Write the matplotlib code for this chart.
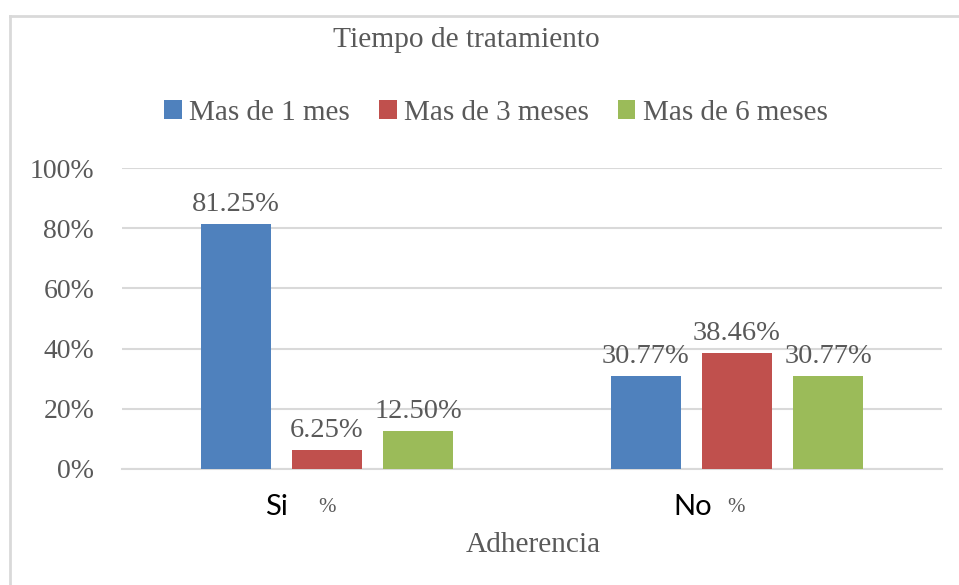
import matplotlib
matplotlib.use("Agg")
import matplotlib.pyplot as plt
import matplotlib.transforms as mtransforms
from matplotlib.patches import Patch
from matplotlib.lines import Line2D
import numpy as np

categories = ["Si", "No"]
series_names = ["Mas de 1 mes", "Mas de 3 meses", "Mas de 6 meses"]
values = [
    [81.25, 30.77],
    [6.25, 38.46],
    [12.50, 30.77],
]
colors = ["#4F81BD", "#C0504D", "#9BBB59"]
ytick_labels = ["0%", "20%", "40%", "60%", "80%", "100%"]
title = "Tiempo de tratamiento"
xlabel = "Adherencia"

W, H = 959, 585
fig = plt.figure(figsize=(W / 100, H / 100), dpi=100)
serif = "Liberation Serif"
gray = "#595959"
grid_c = "#D9D9D9"

ax = fig.add_axes([122 / W, (H - 469) / H, (942 - 122) / W, (469 - 168) / H])
x = np.arange(len(categories))
bw = 0.173
step = 0.222
for i, (name, vals, c) in enumerate(zip(series_names, values, colors)):
    pos = x + (i - 1) * step
    ax.bar(pos, [v / 100 for v in vals], width=bw, color=c, label=name, zorder=3)
    for p, v in zip(pos, vals):
        ax.annotate(f"{v:.2f}%", (p, v / 100), xytext=(0, 5), textcoords="offset points",
                    ha="center", va="bottom", fontsize=20.5, family=serif, color=gray, zorder=4)

ax.set_xlim(-0.5, 1.5)
ax.set_ylim(0, 1)
ax.set_yticks(np.linspace(0, 1, 6))
ax.set_yticklabels(ytick_labels, family=serif, fontsize=20, color=gray)
ax.tick_params(axis="y", length=0, pad=20)
ax.set_xticks([])
ax.yaxis.grid(True, color=grid_c, linewidth=1.5, zorder=0)
ax.set_axisbelow(True)
for s in ["top", "right", "left"]:
    ax.spines[s].set_visible(False)
ax.spines["bottom"].set_color(grid_c)
ax.spines["bottom"].set_linewidth(1.5)

# category labels
tr = mtransforms.blended_transform_factory(ax.transData, fig.transFigure)
yl = (H - 507) / H
offs = [(-39, -9), (-25, -10)]
for xi, cat, (o1, o2) in zip(x, categories, offs):
    ax.annotate(cat, (xi, yl), xycoords=tr, xytext=(o1 * 0.72, 0), textcoords="offset points",
                ha="right", va="center", fontsize=21, family="Lato", color="black",
                annotation_clip=False)
    ax.annotate("%", (xi, yl), xycoords=tr, xytext=(o2 * 0.72, 0), textcoords="offset points",
                ha="left", va="center", fontsize=15, family=serif, color=gray,
                annotation_clip=False)

fig.text(533 / W, 1 - 545 / H, xlabel, ha="center", va="center", fontsize=21.2,
         family=serif, color=gray)
fig.text(466 / W, 1 - 40 / H, title, ha="center", va="center", fontsize=21.2,
         family=serif, color=gray)

handles = [Patch(facecolor=c, edgecolor="none") for c in colors]
leg = fig.legend(handles, series_names, loc="center", bbox_to_anchor=(496 / W, 1 - 113 / H),
                 ncol=3, frameon=False, prop={"family": serif, "size": 21},
                 handlelength=0.6, handleheight=0.6, handletextpad=0.25, columnspacing=1.0)
for t in leg.get_texts():
    t.set_color(gray)

# outer border (top and left)
fig.add_artist(Line2D([10 / W, 1], [1 - 16 / H, 1 - 16 / H], transform=fig.transFigure,
                      color=grid_c, linewidth=2))
fig.add_artist(Line2D([10 / W, 10 / W], [0, 1 - 16 / H], transform=fig.transFigure,
                      color=grid_c, linewidth=2))

fig.savefig("out.png", dpi=100)
